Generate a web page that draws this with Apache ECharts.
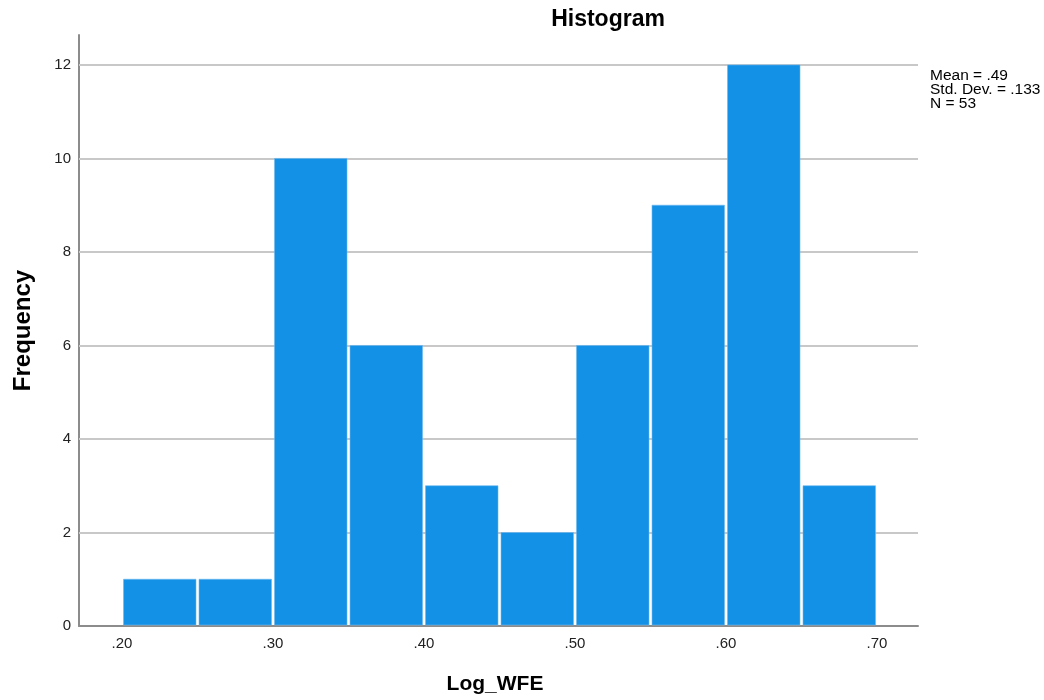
<!DOCTYPE html>
<html><head><meta charset="utf-8">
<script src="https://cdn.jsdelivr.net/npm/echarts@6/dist/echarts.min.js"></script>
<style>html,body{margin:0;padding:0;background:#fff}#c{width:1044px;height:700px}</style>
</head><body><div id="c"></div>
<script>
const binStarts = [0.20,0.25,0.30,0.35,0.40,0.45,0.50,0.55,0.60,0.65];
const binWidth = 0.05;
const frequencies = [1,1,10,6,3,2,6,9,12,3];
const xTicks = [0.20,0.30,0.40,0.50,0.60,0.70];
const yTicks = [0,2,4,6,8,10,12];
const statsLines = ['Mean = .49','Std. Dev. = .133','N = 53'];

const data = binStarts.map((s,i)=>[s, s+binWidth, frequencies[i]]);
const chart = echarts.init(document.getElementById('c'));
const font = 'Liberation Sans, Arial, sans-serif';
chart.setOption({
  animation:false,
  title:{text:'Histogram', left:603, top:3, textAlign:'center',
    textStyle:{fontFamily:font, fontSize:23, fontWeight:'bold', color:'#000'}},
  graphic:[{type:'text', left:930, top:68, z:10, style:{text:statsLines.join('\n'), font:'15.5px '+font, fill:'#000', lineHeight:14}}],
  grid:{left:79, right:126, top:35, bottom:73},
  xAxis:{type:'value', min:0.17152, max:0.72715,
    name:'Log_WFE', nameLocation:'middle', nameGap:48,
    nameTextStyle:{fontFamily:font, fontSize:21, fontWeight:'bold', color:'#000', padding:[0,7,0,0]},
    axisLine:{show:true, lineStyle:{color:'#8c8c8c', width:2}},
    axisTick:{show:false},
    splitLine:{show:false},
    axisLabel:{customValues:xTicks, formatter:v=>v.toFixed(2).replace(/^0/,''), fontFamily:font, fontSize:15, color:'#222', margin:10}
  },
  yAxis:{type:'value', min:0, max:12.64,
    name:'Frequency', nameLocation:'middle', nameGap:44,
    nameTextStyle:{fontFamily:font, fontSize:24, fontWeight:'bold', color:'#000'},
    axisLine:{show:true, lineStyle:{color:'#8c8c8c', width:2}},
    axisTick:{show:false},
    splitLine:{show:false},
    axisLabel:{customValues:yTicks, fontFamily:font, fontSize:15, color:'#222', margin:8}
  },
  series:[
    {type:'line', z:1, data:[], markLine:{silent:true, z:1, symbol:'none', label:{show:false},
      lineStyle:{color:'#c8c8c8', width:2, type:'solid'},
      data:yTicks.filter(v=>v>0).map(v=>({yAxis:v}))}},
    {type:'custom', data:data, encode:{x:[0,1], y:2}, z:10,
      renderItem:function(params, api){
        const p0 = api.coord([api.value(0), api.value(2)]);
        const p1 = api.coord([api.value(1), 0]);
        return {type:'rect', shape:{x:p0[0]+1.5, y:p0[1], width:p1[0]-p0[0]-3, height:p1[1]-p0[1]-1},
          style:{fill:'#1391e6', stroke:'#6db9ee', lineWidth:0.6}};
      }}
  ]
});
</script></body></html>
